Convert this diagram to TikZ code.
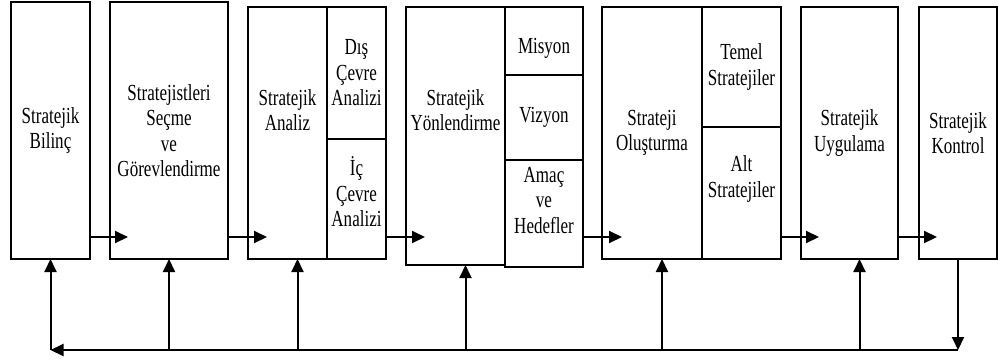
\documentclass[tikz,border=0pt]{standalone}
\usepackage{fontspec}
\setmainfont{Liberation Serif}[FakeStretch=0.74]
\usetikzlibrary{positioning, arrows.meta}

\begin{document}
\begin{tikzpicture}[
    x=1pt, y=-1pt,
    stage/.style={draw, line width=1.1pt, outer sep=0pt, inner sep=0pt,
                  align=center, font=\fontsize{23}{25.5}\selectfont},
    txt/.style={align=center, inner sep=0pt, font=\fontsize{23}{25.5}\selectfont},
    flow/.style={-{Triangle[length=13pt, width=12pt]}, line width=2pt}
  ]
    \useasboundingbox (0,0) rectangle (998,362);
    % Stages
    \node[stage, anchor=north west, minimum width=79pt, minimum height=257pt]
      (b1) at (11,2) {Stratejik\\Bilinç};
    \node[stage, minimum width=118pt, minimum height=257pt, right=20pt of b1]
      (b2) {Stratejistleri\\Seçme\\ve\\Görevlendirme};
    \node[stage, minimum width=79pt, minimum height=252pt,
          right=20pt of b2.north east, anchor=north west, yshift=-5pt] (b3m) {};
    \node[stage, minimum width=59pt, minimum height=132pt,
          right=0pt of b3m.north east, anchor=north west] (b3a) {Dış\\Çevre\\Analizi};
    \node[stage, minimum width=59pt, minimum height=120pt, below=0pt of b3a] (b3b) {};
    \node[stage, minimum width=99pt, minimum height=258pt,
          right=20pt of b3a.north east, anchor=north west] (b4m) {};
    \node[stage, minimum width=78pt, minimum height=68pt,
          right=0pt of b4m.north east, anchor=north west] (b4a) {};
    \node[stage, minimum width=78pt, minimum height=85pt, below=0pt of b4a] (b4b) {Vizyon};
    \node[stage, minimum width=78pt, minimum height=107pt, below=0pt of b4b] (b4c) {};
    \node[stage, minimum width=100pt, minimum height=252pt,
          right=19pt of b4a.north east, anchor=north west] (b5m) {Strateji\\Oluşturma};
    \node[stage, minimum width=79pt, minimum height=120pt,
          right=0pt of b5m.north east, anchor=north west] (b5a) {Temel\\Stratejiler};
    \node[stage, minimum width=79pt, minimum height=132pt, below=0pt of b5a] (b5b) {};
    \node[stage, minimum width=97pt, minimum height=252pt,
          right=20pt of b5a.north east, anchor=north west] (b6) {Stratejik\\Uygulama};
    \node[stage, minimum width=78pt, minimum height=252pt,
          right=21pt of b6.north east, anchor=north west] (b7) {Stratejik\\Kontrol};
    % Texts set off centre
    \node[txt] (t3m) at ([yshift=23pt]b3m.center) {Stratejik\\Analiz};
    \node[txt] (t3b) at ([yshift=7pt]b3b.center) {İç\\Çevre\\Analizi};
    \node[txt] (t4m) at ([yshift=26pt]b4m.center) {Stratejik\\Yönlendirme};
    \node[txt] (t4a) at ([yshift=-7pt]b4a.center) {Misyon};
    \node[txt] (t4c) at ([yshift=13pt]b4c.center) {Amaç\\ve\\Hedefler};
    \node[txt] (t5b) at ([yshift=14pt]b5b.center) {Alt\\Stratejiler};
    % Flow
    \draw[flow] ([yshift=22pt]b1.south east) -- ([xshift=18pt, yshift=22pt]b2.south west);
    \draw[flow] ([yshift=22pt]b2.south east) -- ([xshift=19pt, yshift=22pt]b3m.south west);
    \draw[flow] ([yshift=22pt]b3b.south east) -- ([xshift=19pt, yshift=28pt]b4m.south west);
    \draw[flow] ([yshift=30pt]b4c.south east) -- ([xshift=20pt, yshift=22pt]b5m.south west);
    \draw[flow] ([yshift=22pt]b5b.south east) -- ([xshift=18pt, yshift=22pt]b6.south west);
    \draw[flow] ([yshift=22pt]b6.south east) -- ([xshift=18pt, yshift=22pt]b7.south west);
    % Feedback
    \coordinate[below=91pt of b7.south] (fbR);
    \coordinate (fbL) at (b1.south |- fbR);
    \draw[flow] (b7.south) -- (fbR);
    \draw[flow] (fbR) -- (fbL);
    \draw[flow] (fbL) -- (b1.south);
    \draw[flow] (b2.south |- fbR) -- (b2.south);
    \foreach \b in {b3m, b4m, b5m, b6} {
      \coordinate[right=10pt of \b.south] (\b up);
      \draw[flow] (\b up |- fbR) -- (\b up);
    }
  \end{tikzpicture}
\end{document}
